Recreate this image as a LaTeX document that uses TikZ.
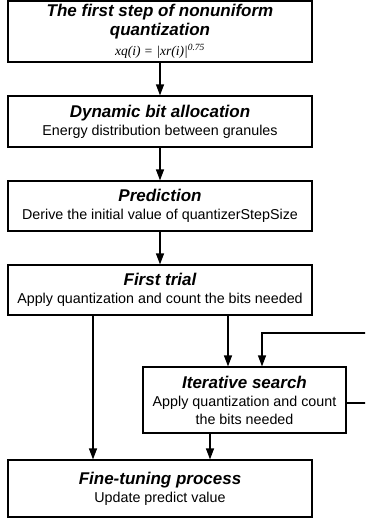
\documentclass[tikz,border=0pt]{standalone}
\usepackage{fontspec}
\setmainfont{Liberation Sans}
\newfontfamily\timesfont{Liberation Serif}
\usetikzlibrary{arrows.meta}

\tikzset{
	stepbox/.style={draw, line width=1.2pt, minimum width=304pt, inner sep=0pt, align=center, font=\fontsize{14.3}{18}\selectfont},
	flow/.style={line width=1.2pt, -{Triangle[length=11pt, width=8pt]}}
}
\newcommand{\steptitle}[1]{{\fontsize{17}{17}\selectfont\bfseries\itshape #1}}

\begin{document}
\begin{tikzpicture}[x=1pt, y=-1pt]
	\path[use as bounding box, clip] (0,0) rectangle (365,520);

	\node[stepbox, minimum height=61pt] (quant) at (160,31.5) {\steptitle{The first step of nonuniform}\\[1pt] \steptitle{quantization}\\[2pt] {\timesfont\itshape\fontsize{13.5}{14}\selectfont xq(i) = |xr(i)|\textsuperscript{0.75}}};
	\node[stepbox, minimum height=51pt] (alloc) at (160,121.5) {\steptitle{Dynamic bit allocation}\\ Energy distribution between granules};
	\node[stepbox, minimum height=50pt] (pred) at (160,206) {\steptitle{Prediction}\\ Derive the initial value of quantizerStepSize};
	\node[stepbox, minimum height=50pt] (trial) at (160,290) {\steptitle{First trial}\\ Apply quantization and count the bits needed};
	\node[stepbox, minimum width=203pt, minimum height=66pt] (search) at (244.5,400) {\steptitle{Iterative search}\\ Apply quantization and count\\ the bits needed};
	\node[stepbox, minimum height=57pt] (fine) at (160,488.5) {\steptitle{Fine-tuning process}\\ Update predict value};

	\coordinate (loop) at (380,333);

	\draw[flow] (quant) -- (alloc);
	\draw[flow] (alloc) -- (pred);
	\draw[flow] (pred) -- (trial);
	\draw[flow] ([xshift=-67pt]trial.south) -- ([xshift=-67pt]fine.north);
	\draw[flow] ([xshift=68pt]trial.south) -- ([xshift=-16.5pt]search.north);
	\draw[flow] ([xshift=-34.5pt]search.south) -- ([xshift=50pt]fine.north);
	\draw[flow] ([yshift=-3pt]search.east) -- ([yshift=-3pt]search.east -| loop) -- (loop) -| ([xshift=17.5pt]search.north);
\end{tikzpicture}
\end{document}
